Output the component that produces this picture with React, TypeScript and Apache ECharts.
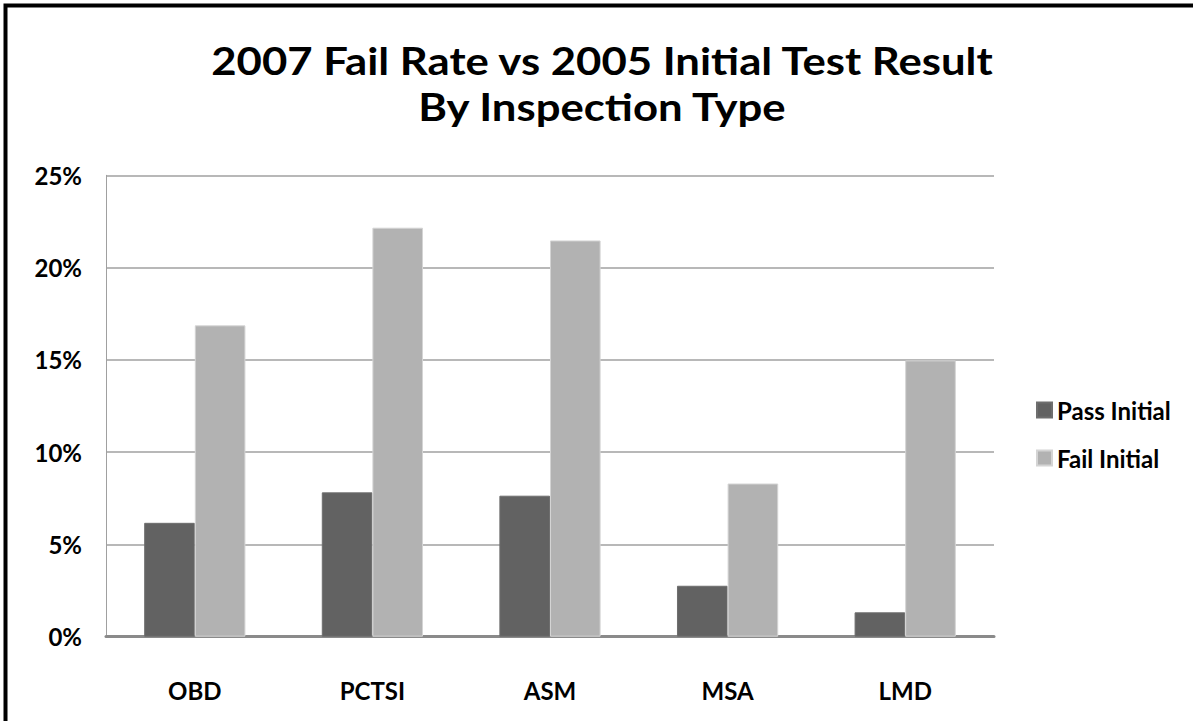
import React, { useEffect, useRef } from "react";
import * as echarts from "echarts";

const categories = ["OBD", "PCTSI", "ASM", "MSA", "LMD"];
const passInitial = [6.17, 7.82, 7.64, 2.76, 1.32];
const failInitial = [16.87, 22.16, 21.47, 8.3, 14.97];
const seriesNames = ["Pass Initial", "Fail Initial"];
const yTicks = [0, 5, 10, 15, 20, 25];
const titleLines = ["2007 Fail Rate vs 2005 Initial Test Result", "By Inspection Type"];

const FONT = "Lato, 'Noto Sans', sans-serif";

export default function App() {
  const ref = useRef<HTMLDivElement>(null);
  useEffect(() => {
    if (!ref.current) return;
    const chart = echarts.init(ref.current, undefined, { renderer: "svg" });
    const titleText = (text: string, y: number) => ({
      type: "text",
      x: 602,
      y,
      scaleX: 1.15,
      silent: true,
      style: {
        text,
        fontFamily: FONT,
        fontWeight: "bold",
        fontSize: 38,
        fill: "#000",
        textAlign: "center",
        textVerticalAlign: "middle",
      },
    });
    chart.setOption({
      animation: false,
      backgroundColor: "#ffffff",
      textStyle: { fontFamily: FONT },
      legend: {
        orient: "vertical",
        left: 1036,
        top: 398,
        padding: 0,
        itemWidth: 15,
        itemHeight: 15,
        itemGap: 24,
        icon: "rect",
        data: seriesNames,
        textStyle: { fontFamily: FONT, fontWeight: "bold", fontSize: 24, color: "#000" },
      },
      grid: { left: 106, right: 199, top: 175.3, bottom: 84.3, containLabel: false },
      xAxis: {
        type: "category",
        data: categories,
        axisLine: { show: true, lineStyle: { color: "#8a8a8a", width: 3 } },
        axisTick: { show: false },
        axisLabel: {
          margin: 42,
          fontFamily: FONT,
          fontWeight: "bold",
          fontSize: 24,
          color: "#000",
        },
      },
      yAxis: {
        type: "value",
        min: yTicks[0],
        max: yTicks[yTicks.length - 1],
        interval: 5,
        axisLine: { show: true, lineStyle: { color: "#a0a0a0", width: 1 } },
        axisTick: { show: false },
        splitLine: { show: true, lineStyle: { color: "#a0a0a0", width: 1.5 } },
        axisLabel: {
          margin: 24,
          formatter: (v: number) => `${v}%`,
          fontFamily: FONT,
          fontWeight: "bold",
          fontSize: 24,
          color: "#000",
        },
      },
      series: [
        {
          name: seriesNames[0],
          type: "bar",
          data: passInitial,
          barGap: "0%",
          barCategoryGap: "43%",
          itemStyle: { color: "#626262", borderColor: "#6e6e6e", borderWidth: 1 },
        },
        {
          name: seriesNames[1],
          type: "bar",
          data: failInitial,
          barGap: "0%",
          barCategoryGap: "43%",
          itemStyle: { color: "#b2b2b2", borderColor: "#d4d4d4", borderWidth: 1 },
        },
      ],
      graphic: [
        titleText(titleLines[0], 61),
        titleText(titleLines[1], 107),
        {
          type: "rect",
          shape: { x: 5.5, y: 5.5, width: 1400, height: 1000 },
          style: { fill: "none", stroke: "#000", lineWidth: 4 },
          silent: true,
          z: 100,
        },
      ],
    });
    return () => chart.dispose();
  }, []);
  return (
    <div
      ref={ref}
      style={{ position: "absolute", left: 0, top: 0, width: 1193, height: 721 }}
    />
  );
}
